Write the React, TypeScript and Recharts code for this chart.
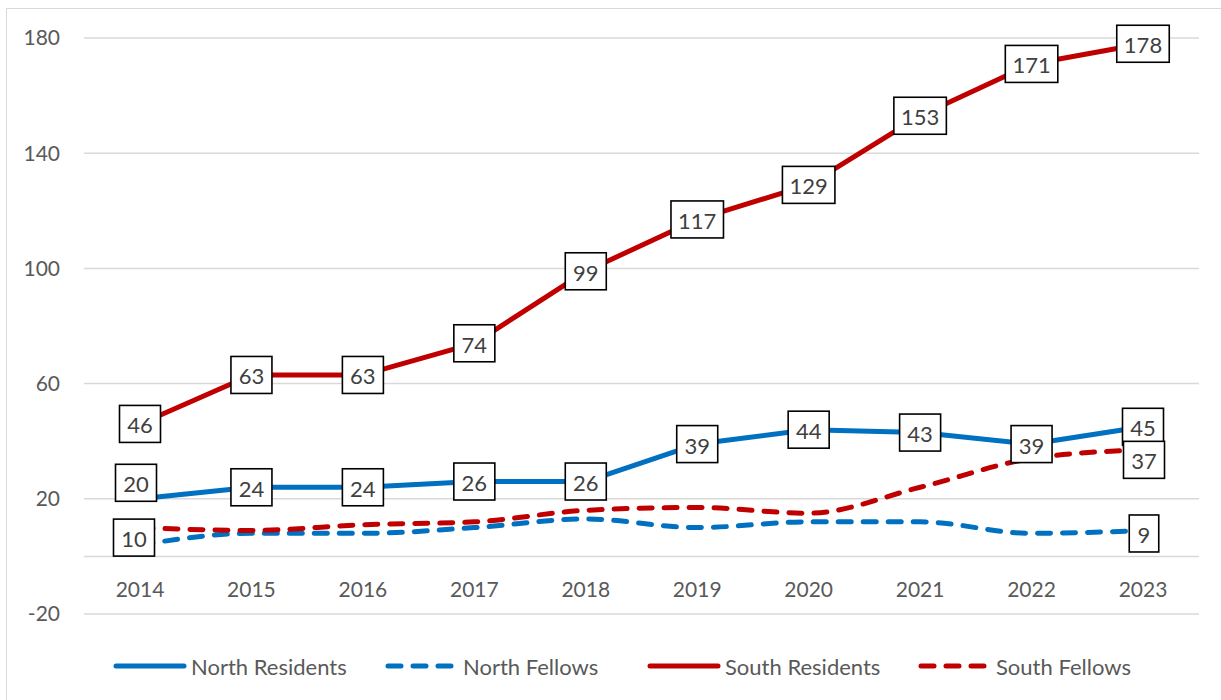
import React from 'react';
import {
    LineChart,
    Line,
    XAxis,
    YAxis,
    CartesianGrid,
    ReferenceLine,
    Legend,
    LabelList,
} from 'recharts';

const years = ['2014', '2015', '2016', '2017', '2018', '2019', '2020', '2021', '2022', '2023'];
const northResidents = [20, 24, 24, 26, 26, 39, 44, 43, 39, 45];
const northFellows = [4, 8, 8, 10, 13, 10, 12, 12, 8, 9];
const southResidents = [46, 63, 63, 74, 99, 117, 129, 153, 171, 178];
const southFellows = [10, 9, 11, 12, 16, 17, 15, 24, 34, 37];
const yTicks = [-20, 20, 60, 100, 140, 180];

// only some points carry a value box in the original
const northFellowsLabelled = [9];
const southFellowsLabelled = [0, 9];

const BLUE = '#0070C0';
const RED = '#C00000';
const FONT = 'Lato, "Open Sans", sans-serif';
const DASH = '13 12';

const data = years.map((year, i) => ({
    year,
    nr: northResidents[i],
    nf: northFellows[i],
    sr: southResidents[i],
    sf: southFellows[i],
}));

const boxLabel =
    (shift: Record<number, [number, number]> = {}, only?: number[]) =>
    (props: any) => {
        const { x, y, value, index } = props;
        if (only && !only.includes(index)) return null;
        const [dx, dy] = shift[index] ?? [0, 0];
        const w = String(value).length * 11.5 + 18;
        const h = 37;
        const cx = x + dx;
        const cy = y + dy;
        return (
            <g>
                <rect
                    x={cx - w / 2}
                    y={cy - h / 2}
                    width={w}
                    height={h}
                    fill="#fff"
                    stroke="#000"
                    strokeWidth={1.6}
                />
                <text
                    x={cx}
                    y={cy + 1}
                    textAnchor="middle"
                    dominantBaseline="central"
                    fontFamily={FONT}
                    fontSize={22}
                    fill="#404040"
                >
                    {value}
                </text>
            </g>
        );
    };

const XTick = (props: any) => {
    const { x, y, payload } = props;
    return (
        <text
            x={x}
            y={y - 34}
            textAnchor="middle"
            dominantBaseline="central"
            fontFamily={FONT}
            fontSize={21}
            fill="#595959"
        >
            {payload.value}
        </text>
    );
};

const legendItems = [
    { name: 'North Residents', color: BLUE, dash: undefined, width: 272 },
    { name: 'North Fellows', color: BLUE, dash: DASH, width: 262 },
    { name: 'South Residents', color: RED, dash: undefined, width: 271 },
    { name: 'South Fellows', color: RED, dash: DASH, width: 230 },
];

const ChartLegend = () => (
    <div style={{ display: 'flex', alignItems: 'center', height: 48, paddingLeft: 113 }}>
        {legendItems.map((it) => (
            <div key={it.name} style={{ display: 'flex', alignItems: 'center', width: it.width }}>
                <svg width={74} height={10} style={{ marginRight: 4 }}>
                    <line
                        x1={3}
                        y1={5}
                        x2={71}
                        y2={5}
                        stroke={it.color}
                        strokeWidth={5}
                        strokeLinecap="round"
                        strokeDasharray={it.dash}
                    />
                </svg>
                <span style={{ fontFamily: FONT, fontSize: 22, color: '#595959', whiteSpace: 'nowrap' }}>
                    {it.name}
                </span>
            </div>
        ))}
    </div>
);

export default function App() {
    return (
        <div style={{ position: 'absolute', left: 0, top: 0, width: 1221, height: 700, background: '#fff' }}>
            <div
                style={{
                    position: 'absolute',
                    left: 6,
                    top: 8,
                    width: 1230,
                    height: 710,
                    border: '1.5px solid #d9d9d9',
                }}
            />
            <LineChart
                width={1221}
                height={700}
                data={data}
                margin={{ top: 38, right: 22, bottom: 10, left: 0 }}
            >
                <CartesianGrid horizontal vertical={false} stroke="#d9d9d9" strokeWidth={1.5} />
                <ReferenceLine y={0} stroke="#d9d9d9" strokeWidth={1.5} />
                <XAxis
                    dataKey="year"
                    axisLine={false}
                    tickLine={false}
                    height={28}
                    interval={0}
                    padding={{ left: 56, right: 56 }}
                    tick={<XTick />}
                />
                <YAxis
                    domain={[-20, 180]}
                    ticks={yTicks}
                    width={84}
                    axisLine={false}
                    tickLine={false}
                    tickSize={6}
                    tickMargin={18}
                    tick={{ fontFamily: FONT, fontSize: 21, fill: '#595959' }}
                />
                <Legend verticalAlign="bottom" height={48} content={<ChartLegend />} />
                <Line
                    type="linear"
                    dataKey="nr"
                    stroke={BLUE}
                    strokeWidth={5}
                    strokeLinejoin="round"
                    dot={false}
                    activeDot={false}
                    isAnimationActive={false}
                />
                <Line
                    type="monotone"
                    dataKey="nf"
                    stroke={BLUE}
                    strokeWidth={5}
                    strokeDasharray={DASH}
                    strokeLinecap="round"
                    dot={false}
                    activeDot={false}
                    isAnimationActive={false}
                />
                <Line
                    type="linear"
                    dataKey="sr"
                    stroke={RED}
                    strokeWidth={5}
                    strokeLinejoin="round"
                    dot={false}
                    activeDot={false}
                    isAnimationActive={false}
                />
                <Line
                    type="monotone"
                    dataKey="sf"
                    stroke={RED}
                    strokeWidth={5}
                    strokeDasharray={DASH}
                    strokeLinecap="round"
                    dot={false}
                    activeDot={false}
                    isAnimationActive={false}
                />
                {/* label-only series drawn last so boxes sit above every line */}
                <Line dataKey="nr" stroke="none" dot={false} activeDot={false} isAnimationActive={false}>
                    <LabelList dataKey="nr" content={boxLabel({ 0: [-4, -16] })} />
                </Line>
                <Line dataKey="sr" stroke="none" dot={false} activeDot={false} isAnimationActive={false}>
                    <LabelList dataKey="sr" content={boxLabel()} />
                </Line>
                <Line dataKey="nf" stroke="none" dot={false} activeDot={false} isAnimationActive={false}>
                    <LabelList dataKey="nf" content={boxLabel({ 9: [1, 3] }, northFellowsLabelled)} />
                </Line>
                <Line dataKey="sf" stroke="none" dot={false} activeDot={false} isAnimationActive={false}>
                    <LabelList
                        dataKey="sf"
                        content={boxLabel({ 0: [-6, 10], 9: [1, 10] }, southFellowsLabelled)}
                    />
                </Line>
            </LineChart>
        </div>
    );
}
